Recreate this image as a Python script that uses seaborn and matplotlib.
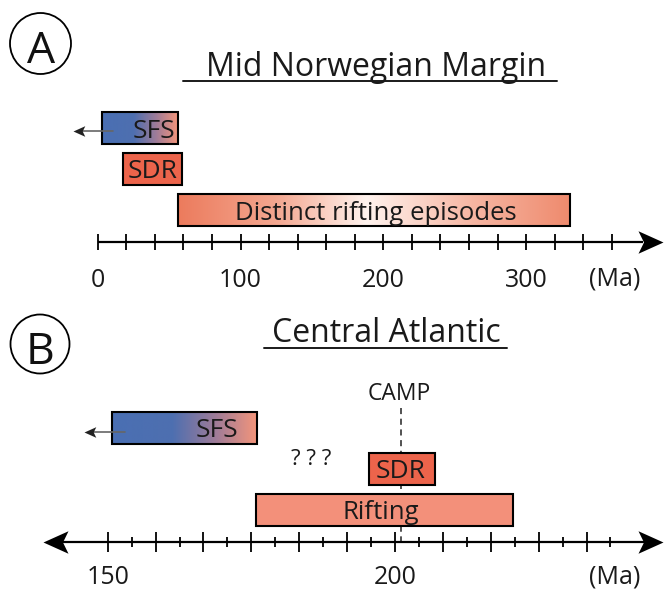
import numpy as np
import pandas as pd
import matplotlib
matplotlib.use("Agg")
import matplotlib.pyplot as plt
import seaborn as sns
from matplotlib.path import Path
from matplotlib.colors import LinearSegmentedColormap
from matplotlib.patches import Circle

sns.set_theme(style="white")
plt.rcParams['font.family'] = ['Open Sans', 'DejaVu Sans']

# ---------------- data (Ma) ----------------
# Panel A: Mid Norwegian Margin
a_events = ["SFS", "SDR", "Distinct rifting episodes"]
a_start = [3, 18, 56]
a_end = [56, 59, 331]
a_label_x = [39.5, 38.5, 195]
a_arrow_from, a_arrow_to = 11, -17
a_tick_values = list(range(0, 361, 20))
a_tick_labels = [0, 100, 200, 300]
a_axis_end = 396

# Panel B: Central Atlantic
b_events = ["SFS", "SDR", "Rifting"]
b_start = [150.7, 195.4, 175.8]
b_end = [175.9, 206.9, 220.6]
b_label_x = [169, 201, 197.5]
b_arrow_from, b_arrow_to = 153, 145.8
b_major_ticks = [150 + k * 50 / 6 for k in range(11)]
b_minor_ticks = [150 + (k + 0.5) * 50 / 6 for k in range(11)]
b_tick_labels = [150, 200]
b_axis_range = (138.7, 246.6)
camp_age = 201
unknown_age = 185.4

# ---------------- colours ----------------
SFS_GRAD = ([0, 0.42, 0.72, 1], ['#4a6fb3', '#4e6fb0', '#a07c98', '#f4957b'])
SDR_COL = '#ec644b'
RIFT_COL = '#f3907a'
DIST_GRAD = ([0, 0.25, 0.48, 0.75, 1], ['#ec7b5d', '#f4a790', '#fff3ee', '#f6b6a3', '#ef8a6d'])

W, H = 668, 590
fig = plt.figure(figsize=(W / 100, H / 100), dpi=100)


def px_axes(top, bottom):
    return fig.add_axes([0, 1 - bottom / H, 1, (bottom - top) / H])


axA = px_axes(0, 300)
axB = px_axes(300, 590)
ov = fig.add_axes([0, 0, 1, 1])
ov.set_xlim(0, W)
ov.set_ylim(H, 0)
ov.set_axis_off()

# arrow head marker (stealth), tip at origin
head_r = Path([(0, 0), (-1, 0.45), (-0.78, 0), (-1, -0.45), (0, 0)],
              [Path.MOVETO, Path.LINETO, Path.LINETO, Path.LINETO, Path.CLOSEPOLY])
head_l = Path([(0, 0), (1, 0.45), (0.78, 0), (1, -0.45), (0, 0)],
              [Path.MOVETO, Path.LINETO, Path.LINETO, Path.LINETO, Path.CLOSEPOLY])


def gradient(ax, patch, spec):
    stops, cols = spec
    cmap = LinearSegmentedColormap.from_list('g', list(zip(stops, cols)))
    x0, y0 = patch.get_x(), patch.get_y()
    w, h = patch.get_width(), patch.get_height()
    im = ax.imshow(np.linspace(0, 1, 256).reshape(1, -1), cmap=cmap, aspect='auto',
                   extent=[x0, x0 + w, y0, y0 + h], interpolation='bilinear', zorder=2)
    im.set_clip_path(patch)
    patch.set_facecolor('none')


def draw_bars(ax, events, starts, ends, fills):
    df = pd.DataFrame({"event": events,
                       "duration": np.array(ends, float) - np.array(starts, float)})
    sns.barplot(data=df, x="duration", y="event", orient="h", width=0.79,
                color="white", edgecolor="black", linewidth=1.5, errorbar=None,
                ax=ax, zorder=3)
    for patch, s, fill in zip(ax.patches, starts, fills):
        patch.set_x(s)
        if isinstance(fill, str):
            patch.set_facecolor(fill)
        else:
            gradient(ax, patch, fill)


# ---------------- Panel A ----------------
draw_bars(axA, a_events, a_start, a_end, [SFS_GRAD, SDR_COL, DIST_GRAD])
ax_row = 2.78
axA.plot([0, a_axis_end - 14], [ax_row, ax_row], color='black', lw=1.6, zorder=4,
         solid_capstyle='butt')
axA.plot([a_axis_end], [ax_row], marker=head_r, ms=36, color='black', mew=0, zorder=5)
axA.vlines(a_tick_values, ax_row - 0.2, ax_row + 0.2, color='black', lw=1.3, zorder=4)
for v in a_tick_labels:
    axA.text(v, 3.87, str(v), ha='center', va='baseline', fontsize=18, color='#1a1a1a')
for x, lab, fs in zip(a_label_x, a_events, [19, 19, 18.5]):
    pass
fs_a = [19, 19, 18.5]
for i, (x, lab) in enumerate(zip(a_label_x, a_events)):
    axA.text(x, i, lab, ha='center', va='center_baseline', fontsize=fs_a[i],
             color='#1a1a1a', zorder=6)
axA.plot([a_arrow_from, a_arrow_to + 5], [0.08, 0.08], color='#666666', lw=1.2, zorder=6)
axA.plot([a_arrow_to], [0.08], marker=head_l, ms=17, color='#222222', mew=0, zorder=6)
axA.set_xlim((0 - 97.7) / 1.428, (W - 97.7) / 1.428)
axA.set_ylim((300 - 128) / 41, (0 - 128) / 41)
axA.set_aspect('auto')
axA.set_axis_off()

# ---------------- Panel B ----------------
draw_bars(axB, b_events, b_start, b_end, [SFS_GRAD, SDR_COL, RIFT_COL])
bx_row = 2.79
axB.plot([camp_age, camp_age], [-0.48, bx_row], color='#222222', lw=1.1,
         dashes=(4, 3), zorder=1)
axB.text(camp_age - 0.2, -0.9, "CAMP", ha='center', va='center_baseline', fontsize=16.5,
         color='#1a1a1a')
axB.text(unknown_age, 0.72, "? ? ?", ha='center', va='center_baseline', fontsize=16,
         color='#1a1a1a')
axB.plot([b_axis_range[0] + 3, b_axis_range[1] - 3], [bx_row, bx_row], color='black',
         lw=1.6, zorder=4, solid_capstyle='butt')
axB.plot([b_axis_range[1]], [bx_row], marker=head_r, ms=36, color='black', mew=0, zorder=5)
axB.plot([b_axis_range[0]], [bx_row], marker=head_l, ms=36, color='black', mew=0, zorder=5)
axB.vlines(b_major_ticks, bx_row - 0.245, bx_row + 0.245, color='black', lw=1.3, zorder=4)
axB.vlines(b_minor_ticks, bx_row - 0.12, bx_row + 0.12, color='black', lw=1.3, zorder=4)
for v in b_tick_labels:
    axB.text(v, 3.81, str(v), ha='center', va='baseline', fontsize=18, color='#1a1a1a')
fs_b = [19, 19, 18.5]
for i, (x, lab) in enumerate(zip(b_label_x, b_events)):
    axB.text(x, i, lab, ha='center', va='center_baseline', fontsize=fs_b[i],
             color='#1a1a1a', zorder=6)
axB.plot([b_arrow_from, b_arrow_to + 1.2], [0.1, 0.1], color='#666666', lw=1.2, zorder=6)
axB.plot([b_arrow_to], [0.1], marker=head_l, ms=17, color='#222222', mew=0, zorder=6)
axB.set_xlim(150 - 107.7 / 5.746, 150 + (W - 107.7) / 5.746)
axB.set_ylim((590 - 427.8) / 41, (300 - 427.8) / 41)
axB.set_aspect('auto')
axB.set_axis_off()

# ---------------- overlay: panel letters, titles ----------------
for (cx, cy, r), letter in [((40.5, 43.5, 30.5), "A"), ((40, 344, 29.5), "B")]:
    ov.add_patch(Circle((cx, cy), r, fill=False, ec='black', lw=1.3))
    ov.text(cx + 0.5, cy + 3, letter, ha='center', va='center_baseline', fontsize=32,
            color='#111111')

ov.text(376, 76, "Mid Norwegian Margin", ha='center', va='baseline', fontsize=23,
        color='#1a1a1a')
ov.plot([183, 557], [81, 81], color='#1a1a1a', lw=1.4)
ov.text(386, 341.7, "Central Atlantic", ha='center', va='baseline', fontsize=23,
        color='#1a1a1a')
ov.plot([264, 507], [347.7, 347.7], color='#1a1a1a', lw=1.4)
ov.text(615, 285, "(Ma)", ha='center', va='baseline', fontsize=18, color='#1a1a1a')
ov.text(615, 584, "(Ma)", ha='center', va='baseline', fontsize=18, color='#1a1a1a')

fig.savefig("out.png", dpi=100)
